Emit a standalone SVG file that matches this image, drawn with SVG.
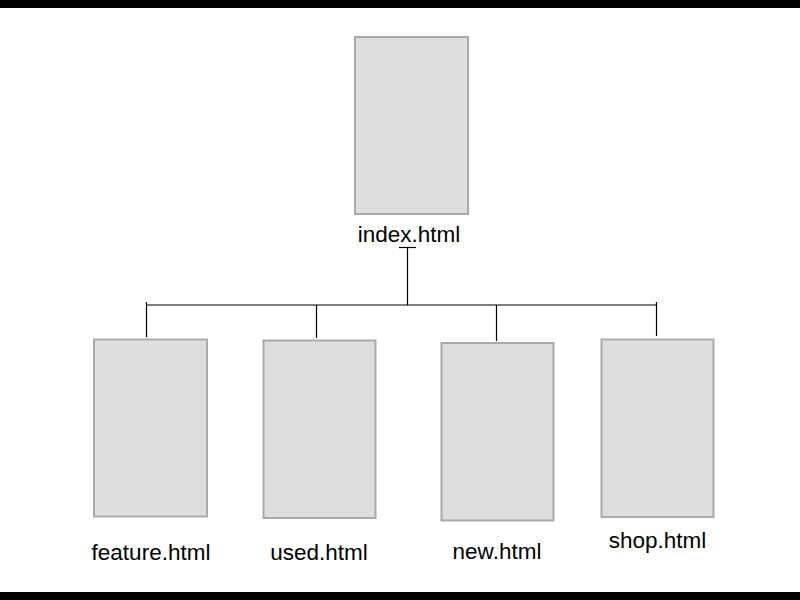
<svg xmlns="http://www.w3.org/2000/svg" width="800" height="600" viewBox="0 0 800 600">
<style>
.page{fill:#dedede;stroke:#aaaaaa;stroke-width:2}
.lbl{font-family:"Liberation Sans",Arial,Helvetica,sans-serif;font-size:22.5px;fill:#000;text-anchor:middle}
.ln{stroke:#000;stroke-width:1.2;fill:none}
</style>
<rect x="0" y="0" width="800" height="600" fill="#fff"/>
<rect x="0" y="0" width="800" height="8" fill="#000"/>
<rect x="0" y="592" width="800" height="8" fill="#000"/>
<g id="connectors">
<line class="ln" x1="399" y1="247.5" x2="416" y2="247.5"/>
<line class="ln" x1="407.5" y1="247.5" x2="407.5" y2="305"/>
<line class="ln" x1="146.5" y1="305" x2="656.5" y2="305"/>
<line class="ln" x1="146.5" y1="302" x2="146.5" y2="337"/>
<line class="ln" x1="316.5" y1="305" x2="316.5" y2="338"/>
<line class="ln" x1="496.5" y1="305" x2="496.5" y2="341"/>
<line class="ln" x1="656.5" y1="302" x2="656.5" y2="336"/>
</g>
<g id="index">
<rect class="page" x="355" y="37" width="113" height="177"/>
<text class="lbl" x="409" y="242">index.html</text>
</g>
<g id="feature">
<rect class="page" x="94" y="339.5" width="113" height="177"/>
<text class="lbl" x="151" y="560">feature.html</text>
</g>
<g id="used">
<rect class="page" x="263.5" y="340.5" width="112" height="177.5"/>
<text class="lbl" x="319" y="560">used.html</text>
</g>
<g id="new">
<rect class="page" x="441.5" y="343" width="112" height="177.5"/>
<text class="lbl" x="497" y="559">new.html</text>
</g>
<g id="shop">
<rect class="page" x="601.5" y="339.5" width="112" height="177.5"/>
<text class="lbl" x="657.5" y="548">shop.html</text>
</g>
</svg>
